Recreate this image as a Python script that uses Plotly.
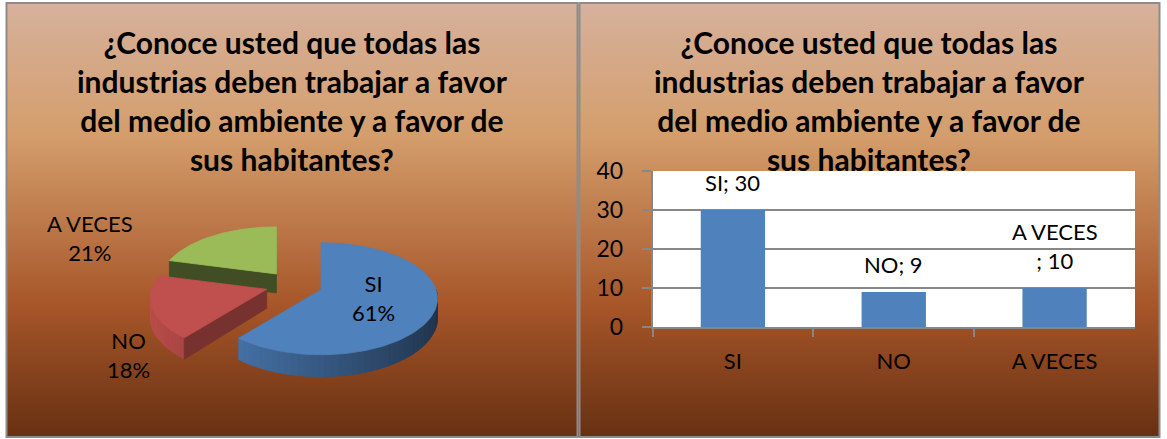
import math
import plotly.graph_objects as go

# ---------------- data ----------------
title_text = "¿Conoce usted que todas las<br>industrias deben trabajar a favor<br>del medio ambiente y a favor de<br>sus habitantes?"
pie_labels = ["SI", "NO", "A VECES"]
pie_pct = [61, 18, 21]
bar_categories = ["SI", "NO", "A VECES"]
bar_values = [30, 9, 10]
y_ticks = [0, 10, 20, 30, 40]

# ---------------- style ----------------
W, H = 1167, 439
FONT = "Lato, Carlito, 'Open Sans', sans-serif"
PIE_COLORS = ["#4F81BD", "#C0504D", "#9BBB59"]
CUT_SHADE = [0.5, 0.62, 0.42]
BAR_COLOR = "#4F81BD"
GRID = "#878787"
BORDER = "#8c8c8c"
GRAD_STOPS = [(0.0, (214, 177, 156)), (0.3, (212, 158, 108)), (0.7, (166, 85, 40)), (1.0, (102, 48, 18))]

# pie geometry (pixels)
CX, CY = 294, 285
RX, RY = 115, 56
PERSP = 0.16
DEPTH = 19
EXPLODE = 0.25

# bar plot area (pixels)
PX0, PX1 = 652.5, 1135
PY_TOP, PY_BOT = 171, 327

fig = go.Figure()


def grad_color(t):
    for (t0, c0), (t1, c1) in zip(GRAD_STOPS[:-1], GRAD_STOPS[1:]):
        if t0 <= t <= t1:
            u = (t - t0) / (t1 - t0)
            return "rgb(%d,%d,%d)" % tuple(round(a + (b - a) * u) for a, b in zip(c0, c1))
    return "rgb(%d,%d,%d)" % GRAD_STOPS[-1][1]


def shade(hexcol, f):
    r, g, b = int(hexcol[1:3], 16), int(hexcol[3:5], 16), int(hexcol[5:7], 16)
    return "rgb(%d,%d,%d)" % (min(255, r * f), min(255, g * f), min(255, b * f))


shapes = []
# background gradient bands
top, bot = 3, 437
step = 2
y = top
while y < bot:
    t = (y - top) / (bot - top)
    shapes.append(dict(type="rect", xref="x", yref="y", x0=6, x1=1160, y0=y, y1=min(bot, y + step + 1),
                       fillcolor=grad_color(t), line=dict(width=0), layer="below"))
    y += step
# white plot area for bar chart
shapes.append(dict(type="rect", xref="x", yref="y", x0=PX0, x1=PX1, y0=PY_TOP, y1=PY_BOT,
                   fillcolor="white", line=dict(width=0), layer="below"))
# panel borders
shapes.append(dict(type="rect", xref="x", yref="y", x0=6.5, x1=577.5, y0=3, y1=437,
                   fillcolor="rgba(0,0,0,0)", line=dict(color=BORDER, width=2), layer="below"))
shapes.append(dict(type="rect", xref="x", yref="y", x0=579.5, x1=1159.5, y0=3, y1=437,
                   fillcolor="rgba(0,0,0,0)", line=dict(color=BORDER, width=2), layer="below"))

# ---------------- 3D exploded pie ----------------
total = sum(pie_pct)
slices = []
cum = 0
for i, v in enumerate(pie_pct):
    a1 = 360 * cum / total
    cum += v
    a2 = 360 * cum / total
    slices.append((i, a1, a2))


def rim(theta, ox, oy, bottom=False):
    t = math.radians(theta)
    f = 1 - PERSP * math.cos(t)
    x = ox + RX * math.sin(t) * f
    y = oy - RY * math.cos(t) * f
    if bottom:
        y += DEPTH * f
    return x, y


def poly(xs, ys, color):
    fig.add_trace(go.Scatter(x=xs + [xs[0]], y=ys + [ys[0]], mode="lines", fill="toself",
                             fillcolor=color, line=dict(color=color, width=0.8),
                             hoverinfo="skip", showlegend=False, xaxis="x", yaxis="y"))


def arc(a1, a2, n_step=2.0):
    n = max(2, int(math.ceil((a2 - a1) / n_step)))
    return [a1 + (a2 - a1) * k / n for k in range(n + 1)]


order = sorted(slices, key=lambda s: -math.cos(math.radians((s[1] + s[2]) / 2)))
for i, a1, a2 in order:
    m = math.radians((a1 + a2) / 2)
    ox = CX + EXPLODE * RX * math.sin(m)
    oy = CY - EXPLODE * RY * math.cos(m)
    base = PIE_COLORS[i]
    # outer wall (front facing part)
    w1, w2 = max(a1, 90), min(a2, 270)
    if w2 > w1:
        angs = arc(w1, w2, 3.0)
        for ta, tb in zip(angs[:-1], angs[1:]):
            p1 = rim(ta, ox, oy); p2 = rim(tb, ox, oy)
            p3 = rim(tb, ox, oy, True); p4 = rim(ta, ox, oy, True)
            tm = math.radians((ta + tb) / 2)
            f = 0.69 + 0.29 * (-math.sin(tm))
            poly([p1[0], p2[0], p3[0], p4[0]], [p1[1], p2[1], p3[1], p4[1]], shade(base, f))
    # cut faces
    for a, visible in ((a1, math.sin(math.radians(a1)) < -0.01), (a2, math.sin(math.radians(a2)) > 0.01)):
        if visible:
            pt = rim(a, ox, oy); pb = rim(a, ox, oy, True)
            poly([ox, pt[0], pb[0], ox], [oy, pt[1], pb[1], oy + DEPTH], shade(base, CUT_SHADE[i]))
    # top face
    angs = arc(a1, a2, 1.5)
    pts = [rim(a, ox, oy) for a in angs]
    poly([ox] + [p[0] for p in pts], [oy] + [p[1] for p in pts], base)

# ---------------- bar chart ----------------
fig.add_trace(go.Bar(x=bar_categories, y=bar_values, marker=dict(color=BAR_COLOR, line=dict(width=0)),
                     xaxis="x2", yaxis="y2", hoverinfo="skip", showlegend=False))

annotations = []
# titles
for cx in (292, 869):
    annotations.append(dict(x=cx, y=22, xref="x", yref="y", xanchor="center", yanchor="top",
                            text="<b>" + title_text + "</b>", showarrow=False, align="center",
                            font=dict(family=FONT, size=30, color="black")))
# pie labels
pie_label_pos = [(373, 298), (128, 355), (90, 238)]
for (lx, ly), lab, v in zip(pie_label_pos, pie_labels, pie_pct):
    annotations.append(dict(x=lx, y=ly, xref="x", yref="y", xanchor="center", yanchor="middle",
                            text=f"{lab}<br>{v}%", showarrow=False, align="center",
                            font=dict(family=FONT, size=22, color="black")))
# bar labels
for c, v in zip(bar_categories, bar_values):
    txt = f"{c}<br>; {v}" if " " in c else f"{c}; {v}"
    annotations.append(dict(x=c, y=v, xref="x2", yref="y2", xanchor="center", yanchor="bottom",
                            yshift=12, text=txt, showarrow=False, align="center",
                            font=dict(family=FONT, size=22, color="black")))

fig.update_layout(
    template="none",
    width=W, height=H, autosize=False,
    margin=dict(l=0, r=0, t=0, b=0, pad=0),
    paper_bgcolor="white", plot_bgcolor="rgba(0,0,0,0)",
    showlegend=False, bargap=0.6,
    shapes=shapes, annotations=annotations,
    xaxis=dict(domain=[0, 1], range=[0, W], visible=False, fixedrange=True, automargin=False),
    yaxis=dict(domain=[0, 1], range=[H, 0], visible=False, fixedrange=True, automargin=False),
    xaxis2=dict(domain=[PX0 / W, PX1 / W], anchor="y2", showline=True, linecolor=GRID, linewidth=1.5,
                ticks="outside", tickson="boundaries", ticklen=8, tickcolor=GRID, tickwidth=1.5,
                showgrid=False, tickfont=dict(family=FONT, size=22, color="black"), ticklabelstandoff=14,
                automargin=False, fixedrange=True),
    yaxis2=dict(domain=[1 - PY_BOT / H, 1 - PY_TOP / H], anchor="x2", range=[0, 40], tickvals=y_ticks,
                showline=True, linecolor=GRID, linewidth=1.5, ticks="outside", ticklen=9,
                tickcolor=GRID, tickwidth=1.5, showgrid=True, gridcolor=GRID, gridwidth=1.5,
                zeroline=False, tickfont=dict(family=FONT, size=23, color="black"), ticklabelstandoff=14,
                automargin=False, fixedrange=True),
)

fig.write_html("out.html", config={"displayModeBar": False},
               post_script="document.body.style.margin='0px';document.body.style.overflow='hidden';")
